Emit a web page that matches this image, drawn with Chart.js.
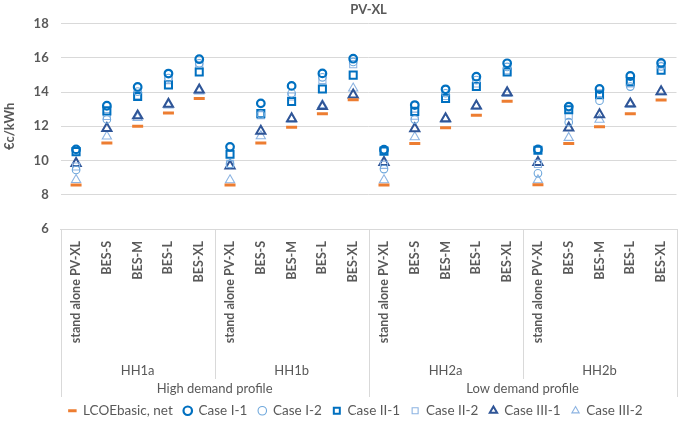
<!DOCTYPE html>
<html>
<head>
<meta charset="utf-8">
<script src="https://cdn.jsdelivr.net/npm/chart.js@4"></script>
<style>
  html, body { margin: 0; padding: 0; background: #fff; }
  #wrap { width: 685px; height: 427px; }
</style>
</head>
<body>
<div id="wrap"><canvas id="pvxl"></canvas></div>
<script>
const subCats = ['stand alone PV-XL', 'BES-S', 'BES-M', 'BES-L', 'BES-XL']
const groups = ['HH1a', 'HH1b', 'HH2a', 'HH2b']
const profiles = ['High demand profile', 'Low demand profile']
const categories = [...subCats, ...subCats, ...subCats, ...subCats]
const yTicks = [6, 8, 10, 12, 14, 16, 18]

// values (€c/kWh)
const lcoe     = [8.57, 11.03, 12.00, 12.78, 13.63, 8.57, 11.03, 11.95, 12.73, 13.55, 8.57, 10.99, 11.91, 12.64, 13.47, 8.58, 11.00, 11.97, 12.73, 13.53]
const caseI1   = [10.65, 13.20, 14.30, 15.08, 15.92, 10.80, 13.34, 14.36, 15.09, 15.95, 10.63, 13.24, 14.16, 14.90, 15.68, 10.65, 13.15, 14.18, 14.94, 15.70]
const caseI2   = [9.45, 12.40, 14.03, 14.82, 15.68, 9.80, 12.70, 13.93, 14.86, 15.76, 9.50, 12.39, 13.93, 14.70, 15.47, 9.25, 12.24, 13.50, 14.32, 15.50]
const caseII1  = [10.52, 12.90, 13.74, 14.42, 15.17, 10.37, 12.74, 13.45, 14.18, 14.99, 10.55, 12.87, 13.63, 14.32, 15.17, 10.60, 12.97, 13.84, 14.61, 15.28]
const caseII2  = [9.65, 12.60, 13.82, 14.70, 15.57, 9.80, 12.65, 13.74, 14.70, 15.63, 9.75, 12.62, 13.77, 14.50, 15.28, 9.80, 12.62, 13.93, 14.51, 15.62]
const caseIII1 = [9.84, 11.88, 12.62, 13.30, 14.13, 9.69, 11.72, 12.45, 13.16, 13.84, 9.89, 11.87, 12.45, 13.20, 13.97, 9.89, 11.91, 12.68, 13.32, 14.03]
const caseIII2 = [8.87, 11.41, 12.50, 13.22, 14.05, 8.86, 11.43, 12.40, 13.25, 14.22, 8.86, 11.37, 12.40, 13.15, 13.90, 8.86, 11.33, 12.39, 13.25, 14.00]

const grey = '#595959'
const lineGrey = '#D9D9D9'
const font = 'Lato, "Liberation Sans", sans-serif'
const legendShift = { x: 12, y: -4 }

function marker(label, data, style, color, radius, width) {
    return {
        label: label,
        data: data,
        showLine: false,
        pointStyle: style,
        pointRadius: radius,
        pointHoverRadius: radius,
        pointBorderWidth: width,
        borderWidth: width,
        borderColor: color,
        backgroundColor: 'rgba(0,0,0,0)',
        pointBorderColor: color,
        pointBackgroundColor: 'rgba(0,0,0,0)'
    }
}

// lines between the groups under the x axis
const separators = {
    id: 'separators',
    afterLayout(chart) {
        // nudge the legend to where excel had it
        const lg = chart.legend
        lg.left += legendShift.x
        lg.right += legendShift.x
        lg.top += legendShift.y
        lg.bottom += legendShift.y
    },
    afterDraw(chart) {
        const {ctx, scales: {x, x2, x3}} = chart
        const step = (x.right - x.left) / categories.length
        const perProfile = categories.length / profiles.length
        ctx.save()
        ctx.strokeStyle = lineGrey
        ctx.lineWidth = 1
        for (let i = 0; i <= categories.length; i += subCats.length) {
            const px = Math.round(x.left + i * step) + 0.5
            ctx.beginPath()
            ctx.moveTo(px, x.top)
            ctx.lineTo(px, i % perProfile === 0 ? x3.bottom : x2.bottom)
            ctx.stroke()
        }
        ctx.restore()
    }
}

const ctx = document.getElementById('pvxl').getContext('2d')
const myChart = new Chart(ctx, {
    type: 'line',
    data: {
        labels: categories,
        datasets: [
            marker('LCOEbasic, net', lcoe, 'line', '#ED7D31', 5.5, 3),
            marker('Case I-1', caseI1, 'circle', '#0070C0', 3.8, 2.2),
            marker('Case I-2', caseI2, 'circle', '#6FA8DC', 3.8, 1.1),
            marker('Case II-1', caseII1, 'rect', '#0070C0', 5, 2),
            marker('Case II-2', caseII2, 'rect', '#8DB4E2', 5, 1.1),
            marker('Case III-1', caseIII1, 'triangle', '#2F5597', 5.3, 2),
            marker('Case III-2', caseIII2, 'triangle', '#8DB4E2', 5.3, 1.1)
        ]
    },
    options: {
        responsive: true,
        maintainAspectRatio: false,
        animation: false,
        layout: { padding: { left: 2, right: 0, top: 0, bottom: 0 } },
        plugins: {
            title: {
                display: true,
                text: 'PV-XL',
                fullSize: false,
                color: grey,
                font: { family: font, size: 13, weight: 'bold' },
                padding: { top: 2, bottom: 6 }
            },
            legend: {
                position: 'bottom',
                fullSize: true,
                maxHeight: 30,
                labels: {
                    usePointStyle: true,
                    boxWidth: 8,
                    boxHeight: 6,
                    padding: 11,
                    color: grey,
                    font: { family: font, size: 13.5 }
                }
            },
            tooltip: { enabled: false }
        },
        scales: {
            x: {
                type: 'category',
                offset: true,
                grid: { display: false },
                border: { display: true, color: lineGrey },
                ticks: {
                    minRotation: 90,
                    maxRotation: 90,
                    autoSkip: false,
                    padding: 4,
                    color: grey,
                    font: { family: font, size: 12.5, weight: 'bold' }
                },
                afterFit(scale) { scale.height = 126 }
            },
            x2: {
                type: 'category',
                labels: groups,
                position: 'bottom',
                offset: true,
                grid: { display: false, drawTicks: false },
                border: { display: false },
                ticks: { padding: 8, color: grey, font: { family: font, size: 13 } },
                afterFit(scale) { scale.height = 24 }
            },
            x3: {
                type: 'category',
                labels: profiles,
                position: 'bottom',
                offset: true,
                grid: { display: false, drawTicks: false },
                border: { display: false },
                ticks: { padding: 2, color: grey, font: { family: font, size: 13 } },
                afterFit(scale) { scale.height = 18 }
            },
            y: {
                min: yTicks[0],
                max: yTicks[yTicks.length - 1],
                afterBuildTicks(scale) { scale.ticks = yTicks.map(v => ({ value: v })) },
                grid: { color: lineGrey, drawTicks: false },
                border: { display: false },
                ticks: {
                    padding: 12,
                    color: grey,
                    font: { family: font, size: 13, weight: 'bold' }
                },
                title: {
                    display: true,
                    text: '€c/kWh',
                    color: grey,
                    font: { family: font, size: 13, weight: 'bold' },
                    padding: { top: 0, bottom: 4 }
                }
            }
        }
    },
    plugins: [separators]
});
</script>
</body>
</html>
